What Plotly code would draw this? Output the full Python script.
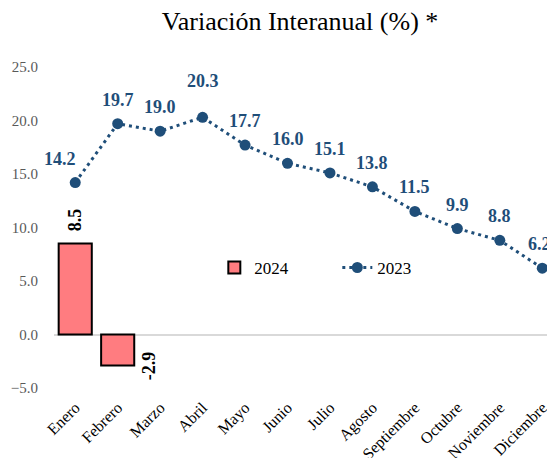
import plotly.graph_objects as go

months = ["Enero", "Febrero", "Marzo", "Abril", "Mayo", "Junio", "Julio",
          "Agosto", "Septiembre", "Octubre", "Noviembre", "Diciembre"]
vals_2024 = [8.5, -2.9]
vals_2023 = [14.2, 19.7, 19.0, 20.3, 17.7, 16.0, 15.1, 13.8, 11.5, 9.9, 8.8, 6.2]
y_ticks = [-5, 0, 5, 10, 15, 20, 25]

BLUE = "#1F4E79"
PINK = "#FF7C80"
FONT = "Liberation Serif"

fig = go.Figure()
fig.add_trace(go.Bar(
    x=months[:len(vals_2024)], y=vals_2024, name="2024",
    marker=dict(color=PINK, line=dict(color="black", width=2)),
    width=0.78,
))
fig.add_trace(go.Scatter(
    x=months, y=vals_2023, name="2023", mode="lines+markers",
    line=dict(color=BLUE, width=3, dash="3px,4px"),
    marker=dict(color=BLUE, size=11),
))

ann = []
last = len(vals_2023) - 1
for i, (m, v) in enumerate(zip(months, vals_2023)):
    xs = -15 if i == 0 else (-3 if i == last else 0)
    ys = 24 if i == 3 else 12
    ann.append(dict(x=m, y=v, text=f"{v:.1f}", showarrow=False, yanchor="bottom",
                    xshift=xs, yshift=ys,
                    font=dict(family=FONT, size=18, color=BLUE, weight="bold")))
for m, v in zip(months, vals_2024):
    if v >= 0:
        ann.append(dict(x=m, y=v, text=f"{v:.1f}", showarrow=False, textangle=-90,
                        yanchor="bottom", yshift=10,
                        font=dict(family=FONT, size=18, color="black", weight="bold")))
    else:
        ann.append(dict(x=m, y=v, text=f"{v:.1f}", showarrow=False, textangle=-90,
                        yanchor="middle", xshift=31, yshift=0,
                        font=dict(family=FONT, size=18, color="black", weight="bold")))

fig.update_layout(
    width=547, height=450, autosize=False,
    margin=dict(l=46, r=0, t=59, b=70, autoexpand=False),
    paper_bgcolor="white", plot_bgcolor="white",
    font=dict(family=FONT, color="black"),
    title=dict(text="Variación Interanual (%) *", x=0.534, xanchor="center",
               y=1 - 13 / 450, yanchor="middle", yref="container",
               font=dict(family=FONT, size=26, color="black")),
    showlegend=True,
    legend=dict(orientation="h", x=0.32, y=0.374, xanchor="left", yanchor="middle",
                font=dict(family=FONT, size=17, color="black"),
                entrywidth=78, entrywidthmode="pixels",
                bgcolor="rgba(0,0,0,0)", traceorder="normal"),
    annotations=ann,
)
fig.update_xaxes(
    range=[-0.5, 11.3], showgrid=False, showline=False, zeroline=False,
    tickangle=-45, tickfont=dict(family=FONT, size=16, color="black"),
    ticks="outside", ticklen=3, tickcolor="rgba(0,0,0,0)",
    type="category", automargin=False,
)
fig.update_yaxes(
    range=[-5, 25], tickvals=y_ticks, tickformat=".1f",
    showgrid=False, showline=False, automargin=False,
    zeroline=True, zerolinecolor="#D9D9D9", zerolinewidth=1.5,
    ticks="outside", ticklen=12, tickcolor="rgba(0,0,0,0)",
    tickfont=dict(family=FONT, size=15, color="#595959"),
)

fig.write_html("out.html")
